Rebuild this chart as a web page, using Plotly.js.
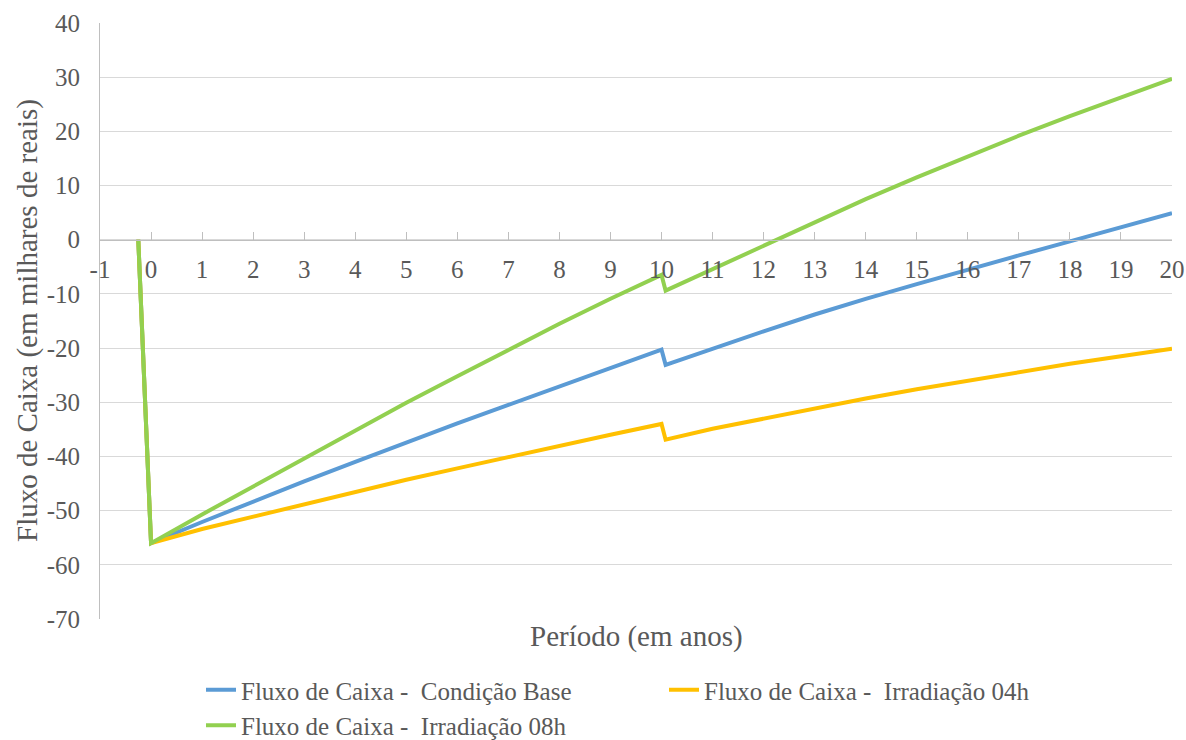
<!DOCTYPE html>
<html>
<head>
<meta charset="utf-8">
<script src="https://cdn.plot.ly/plotly-3.0.1.min.js"></script>
<style>
  html, body { margin: 0; padding: 0; background: #ffffff; }
  #chart { width: 1186px; height: 740px; }
</style>
</head>
<body>
<div id="chart"></div>
<script>
// Período (anos): início, ano 0..10, queda logo após o ano 10, anos 11..20
const periodos = [-0.25, 0, 1, 2, 3, 4, 5, 6, 7, 8, 9, 10, 10.08, 11, 12, 13, 14, 15, 16, 17, 18, 19, 20];

// Fluxo de caixa acumulado (milhares de reais)
const condicaoBase = [0, -56, -52.1, -48.3, -44.6, -41.0, -37.4, -33.9, -30.5, -27.1, -23.7, -20.3,
                      -23.1, -20.1, -16.9, -13.8, -10.9, -8.2, -5.5, -2.9, -0.3, 2.3, 4.9];
const irradiacao04h = [0, -56, -53.4, -51.1, -48.8, -46.5, -44.3, -42.2, -40.1, -38.0, -36.0, -34.0,
                       -36.9, -34.9, -33.0, -31.1, -29.3, -27.6, -26.0, -24.4, -22.9, -21.5, -20.1];
const irradiacao08h = [0, -56, -50.7, -45.5, -40.3, -35.2, -30.1, -25.2, -20.3, -15.5, -10.9, -6.5,
                       -9.4, -5.4, -1.0, 3.3, 7.5, 11.5, 15.4, 19.2, 22.8, 26.3, 29.7];

// Marcas dos eixos
const xTickVals = [-1, 0, 1, 2, 3, 4, 5, 6, 7, 8, 9, 10, 11, 12, 13, 14, 15, 16, 17, 18, 19, 20];
const xTickText = ['-1', '0', '1', '2', '3', '4', '5', '6', '7', '8', '9', '10',
                   '11', '12', '13', '14', '15', '16', '17', '18', '19', '20'];
const yTickVals = [-70, -60, -50, -40, -30, -20, -10, 0, 10, 20, 30, 40];
const yTickText = ['-70', '-60', '-50', '-40', '-30', '-20', '-10', '0', '10', '20', '30', '40'];

const nomes = [
  'Fluxo de Caixa -  Condição Base',
  'Fluxo de Caixa -  Irradiação 04h',
  'Fluxo de Caixa -  Irradiação 08h'
];
const cores = ['#5B9BD5', '#FFC000', '#92D050'];

const yMin = -70, yMax = 40;
const fonte = 'Liberation Serif, Times New Roman, serif';
const cinzaTexto = '#595959';
const tamTexto = 25;
const tamTitulo = 29;

const series = [condicaoBase, irradiacao04h, irradiacao08h];
const traces = series.map((ys, i) => ({
  type: 'scatter',
  mode: 'lines',
  x: periodos,
  y: ys,
  name: nomes[i],
  line: { color: cores[i], width: 4 },
  hoverinfo: 'x+y+name'
}));

const layout = {
  width: 1186,
  height: 740,
  paper_bgcolor: '#ffffff',
  plot_bgcolor: '#ffffff',
  margin: { l: 100, r: 14, t: 23, b: 121, pad: 0 },
  font: { family: fonte, size: tamTexto, color: cinzaTexto },
  showlegend: true,
  xaxis: {
    range: [-1, 20],
    tickmode: 'array',
    tickvals: xTickVals,
    ticktext: xTickText,
    anchor: 'free',
    // eixo horizontal cruza o vertical em y = 0
    position: (0 - yMin) / (yMax - yMin),
    showgrid: false,
    zeroline: false,
    showline: true,
    linecolor: '#bfbfbf',
    linewidth: 1,
    ticks: 'inside',
    ticklen: 8,
    tickwidth: 1,
    tickcolor: '#bfbfbf',
    ticklabelstandoff: 7,
    tickfont: { family: fonte, size: tamTexto, color: cinzaTexto },
    fixedrange: true
  },
  yaxis: {
    range: [yMin, yMax],
    tickmode: 'array',
    tickvals: yTickVals,
    ticktext: yTickText,
    showgrid: true,
    gridcolor: '#d9d9d9',
    gridwidth: 1,
    zeroline: false,
    showline: true,
    linecolor: '#bfbfbf',
    linewidth: 1,
    ticks: '',
    ticklabelstandoff: 14,
    tickfont: { family: fonte, size: tamTexto, color: cinzaTexto },
    fixedrange: true
  },
  legend: {
    orientation: 'h',
    xref: 'container',
    yref: 'container',
    x: 201 / 1186,
    xanchor: 'left',
    y: 1 - 667 / 740,
    yanchor: 'top',
    entrywidth: 418,
    entrywidthmode: 'pixels',
    font: { family: fonte, size: tamTexto, color: cinzaTexto },
    bgcolor: 'rgba(0,0,0,0)',
    traceorder: 'normal'
  },
  annotations: [
    {
      text: 'Período (em anos)',
      xref: 'paper', yref: 'paper',
      x: 0.5, y: 0,
      xanchor: 'center', yanchor: 'middle',
      yshift: -17,
      showarrow: false,
      font: { family: fonte, size: tamTitulo, color: cinzaTexto }
    },
    {
      text: 'Fluxo de Caixa (em milhares de reais)',
      xref: 'paper', yref: 'paper',
      x: 0, y: 0.5,
      xanchor: 'center', yanchor: 'middle',
      xshift: -73,
      textangle: -90,
      showarrow: false,
      font: { family: fonte, size: tamTitulo, color: cinzaTexto }
    }
  ]
};

Plotly.newPlot('chart', traces, layout, { displayModeBar: false, staticPlot: true });
</script>
</body>
</html>
